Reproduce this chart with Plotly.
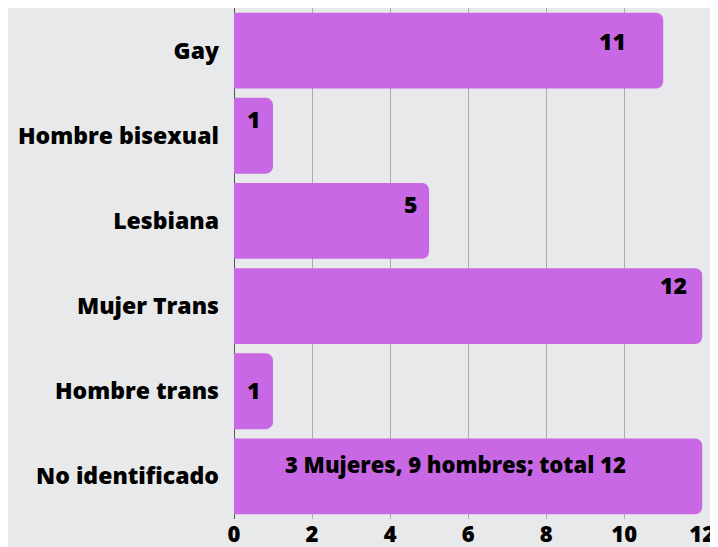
import plotly.graph_objects as go

categories = ["Gay", "Hombre bisexual", "Lesbiana", "Mujer Trans", "Hombre trans", "No identificado"]
values = [11, 1, 5, 12, 1, 12]
labels = ["11", "1", "5", "12", "1", "3 Mujeres, 9 hombres; total 12"]
tick_vals = [0, 2, 4, 6, 8, 10, 12]

# label styling (pixel offsets from bar end / bar centre)
label_dx = [-35, -11, -10, -13, -11, 0]
label_dy = [10, 17, 17, 21, 1, 12]

FONT = "Open Sans"
BAR = "#C968E4"
BG = "#e8e9ea"

fig = go.Figure(go.Bar(
    y=categories, x=values, orientation="h",
    marker=dict(color=BAR, cornerradius=7, line=dict(width=0)),
    hoverinfo="skip",
))

anns = []
for c, v, t, dx, dy in zip(categories, values, labels, label_dx, label_dy):
    if len(t) > 3:
        anns.append(dict(x=v / 2, y=c, text=t, showarrow=False, xanchor="center",
                         xshift=-13, yshift=dy,
                         font=dict(family=FONT, size=22, color="black", weight=800)))
    else:
        anns.append(dict(x=v, y=c, text=t, showarrow=False, xanchor="right",
                         xshift=dx, yshift=dy,
                         font=dict(family=FONT, size=23, color="black", weight=800)))

# page has an 8px body margin; margins compensate so the plot sits where the reference has it
fig.update_layout(
    width=718, height=547,
    margin=dict(l=226, r=23, t=0, b=36, autoexpand=False),
    paper_bgcolor=BG, plot_bgcolor=BG,
    bargap=0.11,
    showlegend=False,
    annotations=anns,
    font=dict(family=FONT, color="black"),
)
fig.update_yaxes(
    autorange="reversed", categoryorder="array", categoryarray=categories,
    tickfont=dict(family=FONT, size=23, color="black", weight=800),
    ticks="", ticklabelstandoff=14, showgrid=False,
    showline=False, zeroline=False,
)
fig.update_xaxes(
    range=[0, 12.02], tickvals=tick_vals, ticktext=[str(v) for v in tick_vals],
    tickfont=dict(family=FONT, size=22, color="black", weight=800),
    showgrid=True, gridcolor="#a9abad", gridwidth=1,
    zeroline=True, zerolinecolor="#555555", zerolinewidth=1,
    ticks="", ticklabelstandoff=0,
)

fig.write_html("out.html")
